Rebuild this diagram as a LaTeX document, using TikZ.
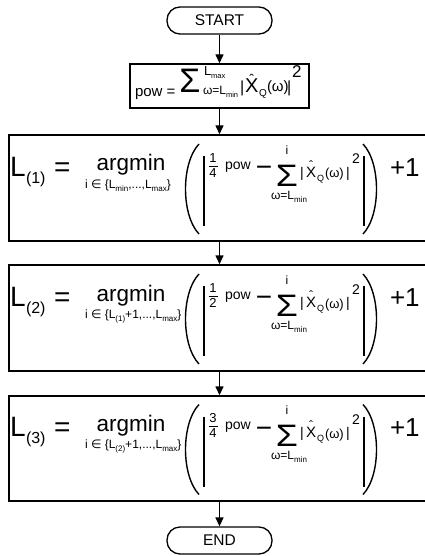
\documentclass[tikz,border=0pt]{standalone}
\usepackage{fontspec}
\setmainfont{Liberation Sans}
\newfontfamily\dejavu{DejaVu Sans}
\newcommand\fsz[1]{\fontsize{#1}{#1}\selectfont}
\newcommand\lsub[1]{\raisebox{-3pt}{\fsz{8}#1}}
\newcommand\psub[1]{\raisebox{-3pt}{\fsz{7.5}#1}}
\newcommand\hatX[2]{\setbox0\hbox{X}\makebox[0pt][l]{\makebox[\wd0][c]{\raisebox{#1}{\fsz{#2}ˆ}}}X}
\usetikzlibrary{arrows.meta}
\tikzset{
  t/.style={inner sep=0pt, outer sep=0pt, anchor=base west},
  tc/.style={inner sep=0pt, outer sep=0pt, anchor=base},
  flow/.style={draw, line width=1.4pt, inner sep=0pt},
  term/.style={draw, line width=1.3pt, rounded corners=13pt, inner sep=0pt, font=\fsz{15.5}},
  arr/.style={line width=1.4pt, -{Triangle[length=9pt,width=8pt]}},
  paren/.style={line width=1.4pt},
  vbar/.style={line width=1.8pt},
}
\newcommand\argrow[6]{%
  \node[t, font=\fsz{28}] (#1L) at (10,{#2-12}) {L};
  \node[t, font=\fsz{16}] (#1Li) at (26,{#2-5}) {(#3)};
  \node[t, font=\fsz{28}] (#1eq) at (54,{#2-12}) {=};
  \node[tc, font=\fsz{22.5}] (#1am) at (131,{#2-17}) {argmin};
  \node[t, font=\fsz{12}] (#1sub) at (85,{#2}) {#6};
  \draw[paren] (199,{#2-44}) .. controls (181,{#2-25}) and (181,{#2+27}) .. (199,{#2+46});
  \draw[vbar] (204,{#2-32}) -- (204,{#2+38});
  \node[tc, font=\fsz{13}] (#1num) at (213,{#2-26}) {#4};
  \draw[line width=0.9pt] (208.5,{#2-22}) -- (217.5,{#2-22});
  \node[tc, font=\fsz{13}] (#1den) at (213,{#2-11}) {#5};
  \node[t, font=\fsz{14}] (#1pow) at (225,{#2-19}) {pow};
  \node[tc, font=\fsz{28}] (#1minus) at (264,{#2-11.5}) {−};
  \node[tc, font=\fsz{31}] (#1sig) at (287,{#2-2}) {\scalebox{1.15}[1]{Σ}};
  \node[tc, font=\fsz{12}] (#1top) at (287,{#2-34}) {i};
  \node[tc, font=\fsz{12}] (#1bot) at (289,{#2+11}) {ω=L\lsub{min}};
  \node[t, font=\fsz{14}] (#1b1) at (300,{#2-11}) {|};
  \node[t, font=\fsz{15}] (#1X) at (306,{#2-11}) {\hatX{7.8pt}{12}};
  \node[t, font=\fsz{9}] (#1Q) at (317,{#2-7}) {Q};
  \node[t, font=\fsz{13}] (#1om) at (325,{#2-10}) {(ω)};
  \node[t, font=\fsz{14}] (#1b2) at (346,{#2-11}) {|};
  \node[t, font=\fsz{14}] (#1sq) at (352,{#2-24}) {2};
  \draw[vbar] (364,{#2-32}) -- (364,{#2+38});
  \draw[paren] (363,{#2-44}) .. controls (381,{#2-25}) and (381,{#2+27}) .. (363,{#2+46});
  \node[t, font=\fsz{26}] (#1p1) at (390,{#2-12}) {+1};
}
\begin{document}
\begin{tikzpicture}[x=1pt,y=-1pt]
\useasboundingbox (0,0) rectangle (425,556);
\clip (0,0) rectangle (425,556);
% frames
\node[term, minimum width=105pt, minimum height=27pt] (start) at (219.5,20.5) {START};
\node[flow, minimum width=179pt, minimum height=44pt] (pow) at (219.5,86) {};
\node[flow, minimum width=421pt, minimum height=106pt] (b1) at (219.5,188) {};
\node[flow, minimum width=421pt, minimum height=106pt] (b2) at (219.5,318) {};
\node[flow, minimum width=421pt, minimum height=105pt] (b3) at (219.5,448.5) {};
\node[term, minimum width=105pt, minimum height=27pt] (end) at (219.5,540.5) {END};
% connectors
\draw[arr] (start) -- (pow);
\draw[arr] (pow) -- (b1);
\draw[arr] (b1) -- (b2);
\draw[arr] (b2) -- (b3);
\draw[arr] (b3) -- (end);
% pow formula
\node[t, font=\fsz{15}] (pw) at (135,97) {pow =};
\node[tc, font=\fsz{34}] (psig) at (190,93) {Σ};
\node[t, font=\fsz{13}] (pmax) at (204,76) {L\psub{max}};
\node[t, font=\fsz{12}] (pmin) at (203,95) {ω=L\psub{min}};
\node[t, font=\fsz{16}] (pb1) at (240,93) {|};
\node[t, font=\fsz{20}] (pX) at (245,93) {\hatX{8.5pt}{14}};
\node[t, font=\fsz{10}] (pQ) at (259,97) {Q};
\node[t, font=\fsz{15}] (pom) at (267,92) {(ω)};
\node[t, font=\fsz{16}] (pb2) at (287,93) {|};
\node[t, font=\fsz{17}] (psq) at (292,78) {2};
% argmin rows
\argrow{r1}{188}{1}{1}{4}{i {\dejavu ∈} \{L\lsub{min},...,L\lsub{max}\}}
\argrow{r2}{318}{2}{1}{2}{i {\dejavu ∈} \{L\lsub{(1)}+1,...,L\lsub{max}\}}
\argrow{r3}{448.5}{3}{3}{4}{i {\dejavu ∈} \{L\lsub{(2)}+1,...,L\lsub{max}\}}
\end{tikzpicture}
\end{document}
